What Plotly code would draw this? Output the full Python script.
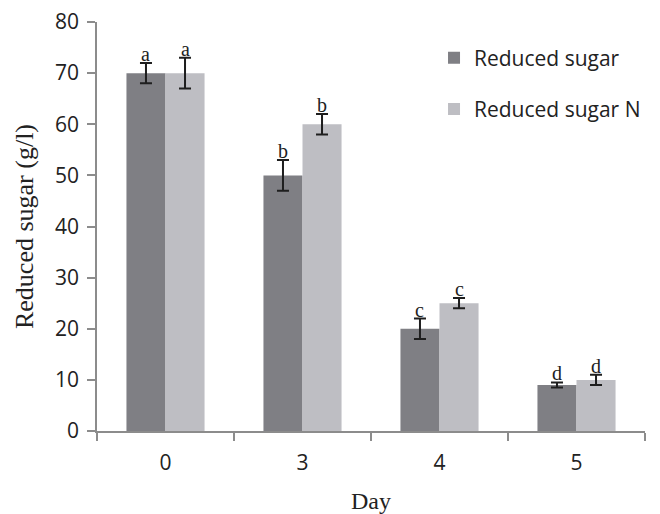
import plotly.graph_objects as go

days = ["0", "3", "4", "5"]
sugar = [70, 50, 20, 9]
sugar_err = [2, 3, 2, 0.5]
sugar_n = [70, 60, 25, 10]
sugar_n_err = [3, 2, 1, 1]
sugar_letters = ["a", "b", "c", "d"]
sugar_n_letters = ["a", "b", "c", "d"]

DARK = "#7f7f84"
LIGHT = "#bebec3"
AXIS = "#8c8c8c"
SANS = "Open Sans, Liberation Sans, sans-serif"
SERIF = "Liberation Serif, Times New Roman, serif"

fig = go.Figure()
fig.add_trace(go.Bar(
    x=days, y=sugar, name="Reduced sugar", marker_color=DARK,
    marker_line_width=0, legendgroup="g1",
    error_y=dict(type="data", array=sugar_err, color="#1e1e1e", thickness=2, width=6),
))
fig.add_trace(go.Bar(
    x=days, y=sugar_n, name="Reduced sugar N", marker_color=LIGHT,
    marker_line_width=0, legendgroup="g2",
    error_y=dict(type="data", array=sugar_n_err, color="#1e1e1e", thickness=2, width=6),
))

# significance letters above error bars
for ti, (vals, errs, letters) in enumerate([(sugar, sugar_err, sugar_letters),
                                            (sugar_n, sugar_n_err, sugar_n_letters)]):
    for i, (v, e, lt) in enumerate(zip(vals, errs, letters)):
        fig.add_annotation(
            x=i + (-0.143 if ti == 0 else 0.143), y=v + e, xref="x", yref="y",
            text=lt, showarrow=False, yanchor="bottom", xanchor="center",
            yshift=-4,
            font=dict(family=SERIF, size=20, color="#1e1e1e"),
        )

fig.update_layout(
    width=660, height=514,
    margin=dict(l=97, r=15, t=22, b=83),
    paper_bgcolor="white", plot_bgcolor="white",
    barmode="group", bargap=0.43, bargroupgap=0,
    font=dict(family=SANS, size=21, color="#222222"),
    showlegend=True,
    legend=dict(
        x=0.615, y=0.962, xanchor="left", yanchor="top",
        bgcolor="rgba(0,0,0,0)", font=dict(family=SANS, size=21, color="#222222"),
        tracegroupgap=21, itemwidth=30,
    ),
)
fig.update_xaxes(
    type="category", showline=True, linecolor=AXIS, linewidth=1.5,
    ticks="outside", tickson="boundaries", ticklen=8, tickcolor=AXIS, tickwidth=1.5,
    showgrid=False, zeroline=False, ticklabelstandoff=12, automargin=False,
    tickfont=dict(family=SANS, size=21, color="#222222"),
    title=dict(text="Day", font=dict(family=SERIF, size=24, color="#222222"), standoff=19),
)
fig.update_yaxes(
    range=[0, 80], dtick=10, showline=True, linecolor=AXIS, linewidth=1.5,
    ticks="outside", ticklen=8, tickcolor=AXIS, tickwidth=1.5,
    showgrid=False, zeroline=False, ticklabelstandoff=4, automargin=False,
    tickfont=dict(family=SANS, size=21, color="#222222"),
    title=dict(text="Reduced sugar (g/l)", font=dict(family=SERIF, size=26, color="#222222"), standoff=14),
)

fig.write_html("out.html")
